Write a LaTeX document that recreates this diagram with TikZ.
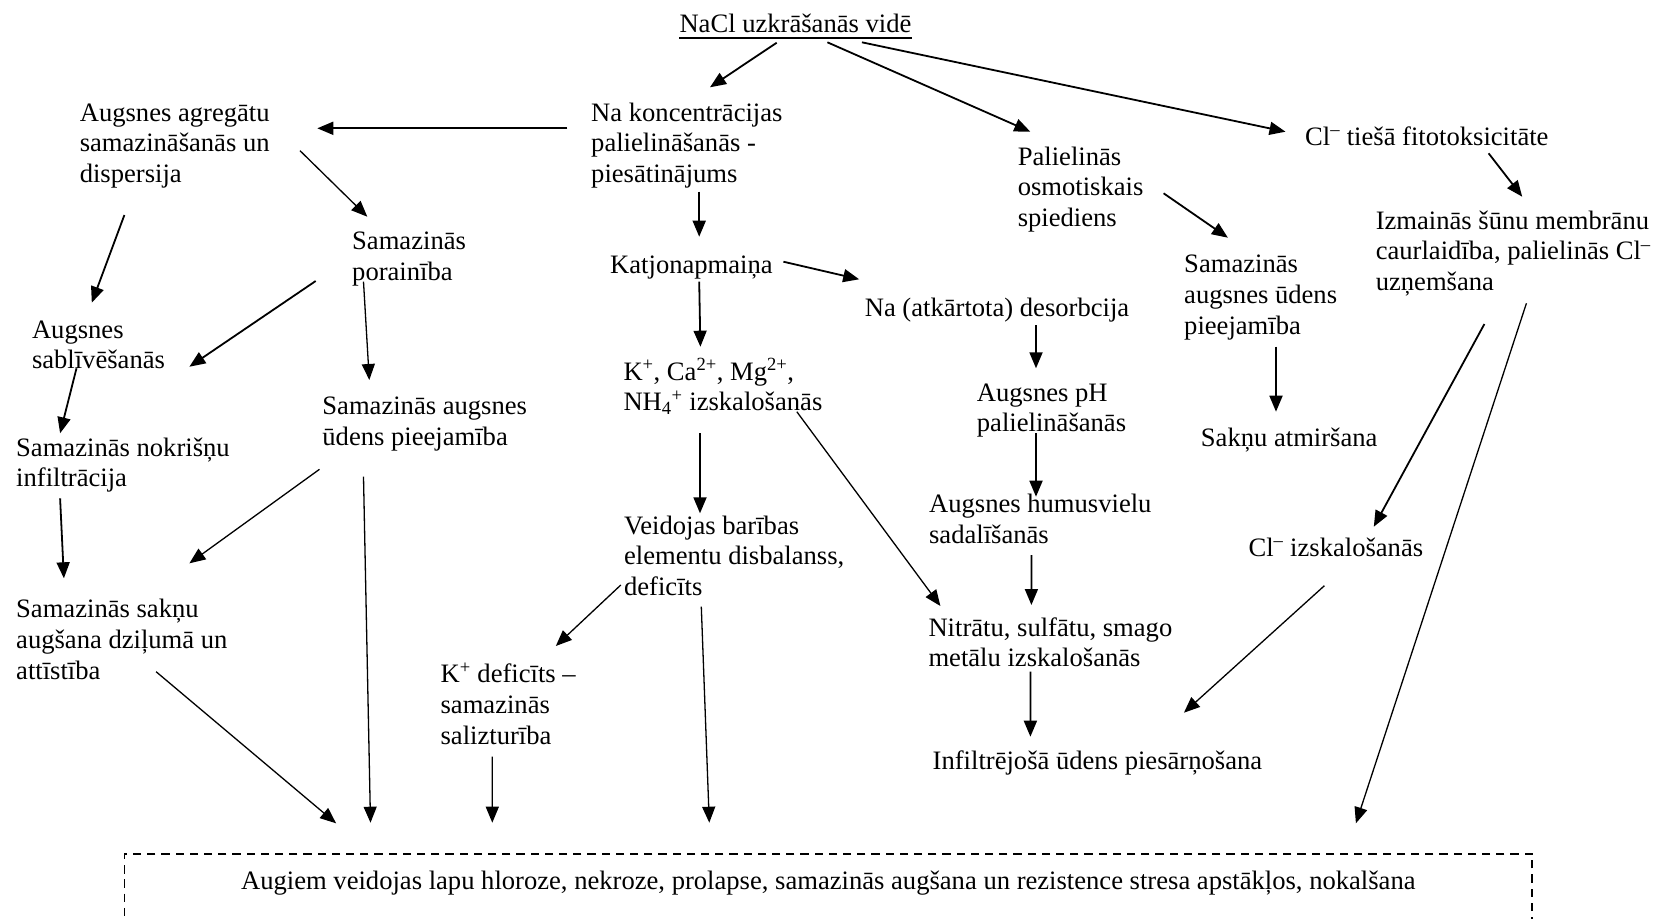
\documentclass[tikz,border=0pt]{standalone}
\usepackage{fontspec}
\setmainfont{Liberation Serif}
\usetikzlibrary{arrows.meta}
\newcommand{\mlines}[1]{\begin{tabular}[t]{@{}l@{}}#1\end{tabular}}
\newcommand{\diagfont}{\fontsize{26.6pt}{30.8pt}\selectfont}
\tikzset{
  lbl/.style={anchor=base west, inner sep=0pt, font=\diagfont},
  arr/.style={-{Triangle[length=16pt,width=13pt]}, line width=1.8pt},
  lean/.style={line width=1.3pt},
  outbox/.style={draw, dash pattern=on 8.3pt off 5.9pt, line width=1.8pt, anchor=north,
    minimum width=1407.8pt, inner xsep=0pt, inner ysep=16.6pt, text height=19pt, text depth=60pt, font=\diagfont}
}
\begin{document}
\begin{tikzpicture}[x=1pt,y=-1pt]
\useasboundingbox (0,0) rectangle (1654,918);
\clip (0,0) rectangle (1654,918);
\fill[white] (0,0) rectangle (1654,918);

\node[lbl] (nacl) at (679.3,32.3) {NaCl uzkrāšanās vidē};
\draw[line width=1.8pt] ([yshift=-5.4pt]nacl.base west) -- ([yshift=-5.4pt]nacl.base east);
\node[lbl] (agr) at (79.6,121) {\mlines{Augsnes agregātu\\samazināšanās un\\dispersija}};
\node[lbl] (nak) at (591,121) {\mlines{Na koncentrācijas\\palielināšanās -\\piesātinājums}};
\node[lbl] (osm) at (1017.6,165) {\mlines{Palielinās\\osmotiskais\\spiediens}};
\node[lbl] (cl) at (1305,145) {Cl\textsuperscript{–} tiešā fitotoksicitāte};
\node[lbl] (izm) at (1375.6,229) {\mlines{Izmainās šūnu membrānu\\caurlaidība, palielinās Cl\textsuperscript{–}\\uzņemšana}};
\node[lbl] (por) at (352,249.5) {\mlines{Samazinās\\porainība}};
\node[lbl] (katj) at (610,273) {Katjonapmaiņa};
\node[lbl] (saug1) at (1184,272.6) {\mlines{Samazinās\\augsnes ūdens\\pieejamība}};
\node[lbl] (desorb) at (864.6,316) {Na (atkārtota) desorbcija};
\node[lbl] (sabl) at (31.8,338) {\mlines{Augsnes\\sablīvēšanās}};
\node[lbl] (ions) at (623.3,380) {\mlines{K\textsuperscript{+}, Ca\textsuperscript{2+}, Mg\textsuperscript{2+},\\NH\textsubscript{4}\textsuperscript{+} izskalošanās}};
\node[lbl] (ph) at (976.7,401) {\mlines{Augsnes pH\\palielināšanās}};
\node[lbl] (saug2) at (322.2,414.3) {\mlines{Samazinās augsnes\\ūdens pieejamība}};
\node[lbl] (atm) at (1200.7,446) {Sakņu atmiršana};
\node[lbl] (nokr) at (16,456) {\mlines{Samazinās nokrišņu\\infiltrācija}};
\node[lbl] (hum) at (928.9,512.6) {\mlines{Augsnes humusvielu\\sadalīšanās}};
\node[lbl] (veid) at (623.9,534) {\mlines{Veidojas barības\\elementu disbalanss,\\deficīts}};
\node[lbl] (clizs) at (1248.4,556) {Cl\textsuperscript{–} izskalošanās};
\node[lbl] (sakn) at (16,617.6) {\mlines{Samazinās sakņu\\augšana dziļumā un\\attīstība}};
\node[lbl] (nitr) at (928.3,636) {\mlines{Nitrātu, sulfātu, smago\\metālu izskalošanās}};
\node[lbl] (kdef) at (440.4,682.6) {\mlines{K\textsuperscript{+} deficīts –\\samazinās\\salizturība}};
\node[lbl] (infil) at (932.5,769.3) {Infiltrējošā ūdens piesārņošana};
\node[outbox] (out) at (828.3,852.7) {Augiem veidojas lapu hloroze, nekroze, prolapse, samazinās augšana un rezistence stresa apstākļos, nokalšana};

% connectors
\draw[arr] ([shift={(97.4,10.4)}]nacl.base west) -- ([shift={(119,-33.7)}]nak.base west);
\draw[arr] ([shift={(148.1,10)}]nacl.base west) -- ([shift={(12.7,-33.3)}]osm.base west);
\draw[arr] ([shift={(182.6,10)}]nacl.base west) -- ([shift={(-19.5,-13.3)}]cl.base west);
\draw[arr] ([shift={(-23.7,7.3)}]nak.base west) -- ([shift={(237.7,7.3)}]agr.base west);
\draw[arr] ([shift={(108.2,70.7)}]nak.base west) -- ([shift={(89.2,-36.3)}]katj.base west);
\draw[arr,lean] ([shift={(220.4,29.7)}]agr.base west) -- ([shift={(15.3,-32.8)}]por.base west);
\draw[arr] ([shift={(44.8,94)}]agr.base west) -- ([shift={(60,-35.3)}]sabl.base west);
\draw[arr] ([shift={(-36.3,31.5)}]por.base west) -- ([shift={(157.6,28.7)}]sabl.base west);
\draw[arr,lean] ([shift={(11.5,32.2)}]por.base west) -- ([shift={(47.1,-34.3)}]saug2.base west);
\draw[arr] ([shift={(173.4,-11.3)}]katj.base west) -- ([shift={(-5.4,-36.7)}]desorb.base west);
\draw[arr] ([shift={(89.2,8.7)}]katj.base west) -- ([shift={(77.1,-33.3)}]ions.base west);
\draw[arr] ([shift={(146,28.3)}]osm.base west) -- ([shift={(43.9,-34.9)}]saug1.base west);
\draw[arr] ([shift={(183.6,8.3)}]cl.base west) -- ([shift={(146.6,-32.3)}]izm.base west);
\draw[arr] ([shift={(44.7,30.3)}]sabl.base west) -- ([shift={(44.1,-22.7)}]nokr.base west);
\draw[arr] ([shift={(171.4,9)}]desorb.base west) -- ([shift={(59.3,-32.7)}]ph.base west);
\draw[arr] ([shift={(92,74.1)}]saug1.base west) -- ([shift={(75.3,-34.3)}]atm.base west);
\draw[arr] ([shift={(108.8,95)}]izm.base west) -- ([shift={(125.4,-29.3)}]clizs.base west);
\draw[arr,lean] ([shift={(150.8,74.3)}]izm.base west) -- ([shift={(527.6,-29.4)}]out.north);
\draw[arr] ([shift={(76.7,53.3)}]ions.base west) -- ([shift={(76.1,-20.7)}]veid.base west);
\draw[arr,lean] ([shift={(173.5,31.7)}]ions.base west) -- ([shift={(12.1,-30)}]nitr.base west);
\draw[arr] ([shift={(59.3,32.3)}]ph.base west) -- ([shift={(107.1,-15.9)}]hum.base west);
\draw[arr] ([shift={(44.1,42.3)}]nokr.base west) -- ([shift={(47.9,-39.3)}]sakn.base west);
\draw[arr,lean] ([shift={(-2.7,55)}]saug2.base west) -- ([shift={(173.4,-54.3)}]sakn.base west);
\draw[arr,lean] ([shift={(41.3,62.4)}]saug2.base west) -- ([shift={(-457.8,-30)}]out.north);
\draw[arr] ([shift={(102.5,42.4)}]hum.base west) -- ([shift={(103.1,-31)}]nitr.base west);
\draw[arr,lean] ([shift={(76,29.7)}]clizs.base west) -- ([shift={(251.4,-56.6)}]infil.base west);
\draw[arr,lean] ([shift={(-3.1,51)}]veid.base west) -- ([shift={(115.4,-36.6)}]kdef.base west);
\draw[arr,lean] ([shift={(77.4,72.7)}]veid.base west) -- ([shift={(-119,-30)}]out.north);
\draw[arr,lean] ([shift={(140.1,54.1)}]sakn.base west) -- ([shift={(-492.2,-29.4)}]out.north);
\draw[arr,lean] ([shift={(51.9,74.1)}]kdef.base west) -- ([shift={(-336,-30)}]out.north);
\draw[arr] ([shift={(102.1,35.7)}]nitr.base west) -- ([shift={(97.9,-32.6)}]infil.base west);
\end{tikzpicture}
\end{document}
